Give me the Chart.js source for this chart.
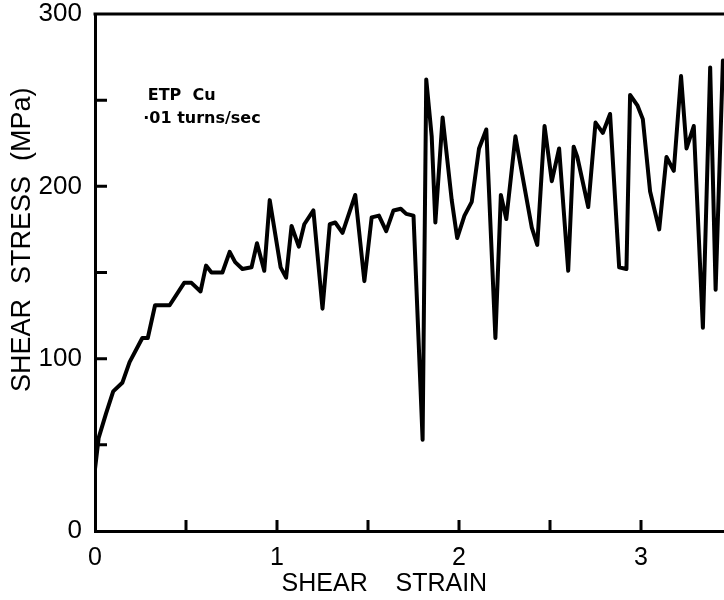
<!DOCTYPE html>
<html>
<head>
<meta charset="utf-8">
<script src="https://cdn.jsdelivr.net/npm/chart.js@4.4.1/dist/chart.umd.min.js"></script>
<style>
  html, body { margin: 0; padding: 0; background: #fff; }
  #wrap { width: 724px; height: 600px; }
</style>
</head>
<body>
<div id="wrap"><canvas id="stressChart"></canvas></div>
<script>
// shear strain (x) and shear stress in MPa (y)
const strain = [0, 0.02, 0.06, 0.10, 0.15, 0.19, 0.26, 0.29, 0.33, 0.41,
    0.49, 0.53, 0.58, 0.61, 0.64, 0.70, 0.74, 0.77, 0.81, 0.86,
    0.89, 0.93, 0.96, 1.02, 1.05, 1.08, 1.12, 1.15, 1.20, 1.25,
    1.29, 1.32, 1.36, 1.43, 1.48, 1.52, 1.56, 1.60, 1.64, 1.68,
    1.71, 1.75, 1.80, 1.82, 1.85, 1.87, 1.91, 1.96, 1.99, 2.03,
    2.07, 2.11, 2.15, 2.20, 2.23, 2.26, 2.31, 2.33, 2.40, 2.43,
    2.47, 2.51, 2.55, 2.60, 2.63, 2.65, 2.71, 2.75, 2.79, 2.83,
    2.88, 2.92, 2.94, 2.98, 3.01, 3.05, 3.10, 3.14, 3.18, 3.22,
    3.25, 3.29, 3.34, 3.38, 3.41, 3.45];
const stress = [36, 54, 68, 81, 86, 98, 112, 112, 131, 131,
    144, 144, 139, 154, 150, 150, 162, 156, 152, 153,
    167, 151, 192, 153, 147, 177, 165, 178, 186, 129,
    178, 179, 173, 195, 145, 182, 183, 174, 186, 187,
    184, 183, 53, 262, 229, 179, 240, 192, 170, 183,
    191, 222, 233, 112, 195, 181, 229, 217, 176, 166,
    235, 203, 222, 151, 223, 217, 188, 237, 231, 242,
    153, 152, 253, 247, 239, 197, 175, 217, 209, 264,
    222, 235, 118, 269, 140, 273];

const xLabels = [0, 1, 2, 3];
const yLabels = [0, 100, 200, 300];
const xTitle = 'SHEAR    STRAIN';
const yTitle = 'SHEAR  STRESS  (MPa)';
const noteLines = ['ETP  Cu', '·01 turns/sec'];

const points = strain.map((s, i) => ({ x: s, y: stress[i] }));

// inward tick marks, top border, axis titles and the note
const decorations = {
    id: 'decorations',
    afterDraw(chart) {
        const ctx = chart.ctx;
        const area = chart.chartArea;
        const xs = chart.scales.x;
        const ys = chart.scales.y;
        ctx.save();
        ctx.strokeStyle = '#000';
        ctx.lineWidth = 3;
        ctx.beginPath();
        ctx.moveTo(area.left - 1.5, area.top);
        ctx.lineTo(area.right, area.top);
        xs.ticks.forEach(t => {
            const px = xs.getPixelForValue(t.value);
            if (t.value === 0) return;
            ctx.moveTo(px, area.bottom);
            ctx.lineTo(px, area.bottom - 11);
        });
        ys.ticks.forEach(t => {
            const py = ys.getPixelForValue(t.value);
            if (t.value === 0 || t.value === 300) return;
            ctx.moveTo(area.left, py);
            ctx.lineTo(area.left + 12, py);
        });
        ctx.stroke();

        ctx.fillStyle = '#000';
        ctx.textAlign = 'center';
        ctx.textBaseline = 'middle';
        ctx.font = '25px "Liberation Sans", Arial, sans-serif';
        ctx.fillText(xTitle, xs.getPixelForValue(1.59), 584);

        ctx.save();
        ctx.translate(23, ys.getPixelForValue(169));
        ctx.rotate(-Math.PI / 2);
        ctx.font = '27px "Liberation Sans", Arial, sans-serif';
        ctx.fillText(yTitle, 0, 0);
        ctx.restore();

        ctx.textAlign = 'left';
        ctx.textBaseline = 'alphabetic';
        ctx.font = 'bold 16px "DejaVu Sans", sans-serif';
        ctx.fillText(noteLines[0], xs.getPixelForValue(0.29), ys.getPixelForValue(250));
        ctx.fillText(noteLines[1], xs.getPixelForValue(0.265), ys.getPixelForValue(237));
        ctx.restore();
    }
};

new Chart(document.getElementById('stressChart'), {
    type: 'line',
    data: {
        datasets: [{
            data: points,
            borderColor: '#000',
            borderWidth: 4,
            pointRadius: 0,
            tension: 0,
            fill: false,
            borderJoinStyle: 'round',
            borderCapStyle: 'round'
        }]
    },
    options: {
        responsive: true,
        maintainAspectRatio: false,
        animation: false,
        layout: { padding: { top: 14, right: 0, left: 0, bottom: 0 } },
        plugins: {
            legend: { display: false },
            tooltip: { enabled: false }
        },
        scales: {
            x: {
                type: 'linear',
                min: 0,
                max: 3.456,
                afterFit: scale => {
                    scale.height = 69;
                    scale.paddingLeft = 0;
                    scale.paddingRight = 0;
                },
                grid: { display: false, drawTicks: false },
                border: { display: true, color: '#000', width: 3 },
                ticks: {
                    stepSize: 0.5,
                    includeBounds: false,
                    padding: 12,
                    color: '#000',
                    maxRotation: 0,
                    autoSkip: false,
                    font: { family: '"Liberation Sans", Arial, sans-serif', size: 25 },
                    callback: v => xLabels.includes(v) ? String(v) : ''
                }
            },
            y: {
                min: 0,
                max: 300,
                afterFit: scale => {
                    scale.width = 95;
                    scale.paddingTop = 0;
                    scale.paddingBottom = 0;
                },
                grid: { display: false, drawTicks: false },
                border: { display: true, color: '#000', width: 3 },
                ticks: {
                    stepSize: 50,
                    padding: 13,
                    color: '#000',
                    autoSkip: false,
                    font: { family: '"Liberation Sans", Arial, sans-serif', size: 26 },
                    callback: v => yLabels.includes(v) ? String(v) : ''
                }
            }
        }
    },
    plugins: [decorations]
});
</script>
</body>
</html>
